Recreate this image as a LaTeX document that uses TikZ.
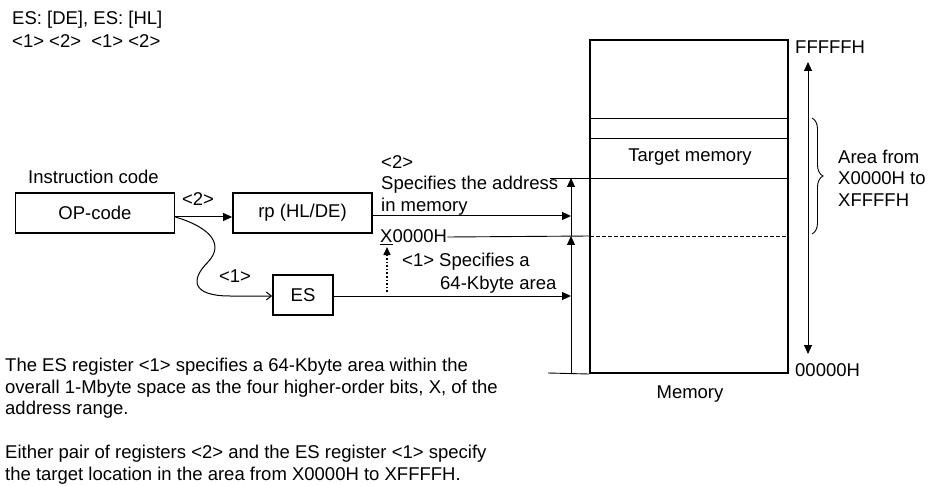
\documentclass[tikz,border=0pt]{standalone}
\usepackage{fontspec}
\setmainfont{Liberation Sans}
\usetikzlibrary{arrows.meta,decorations.pathreplacing}
\begin{document}
\begin{tikzpicture}[x=1pt,y=-1pt,
  txt/.style={font=\fontsize{18.5}{21.5}\selectfont, inner sep=0pt, anchor=west},
  ctxt/.style={font=\fontsize{18.5}{21.5}\selectfont, inner sep=0pt},
  boxn/.style={draw, line width=1.8pt, minimum height=40pt, inner sep=0pt, font=\fontsize{18.5}{21.5}\selectfont},
  thin/.style={line width=0.9pt},
  arr/.style={line width=1pt, -{Triangle[length=9pt,width=8pt]}},
  barb/.style={line width=1pt, -{Straight Barb[length=5pt,width=8pt]}}
]
\useasboundingbox (0,0) rectangle (928,486);
% top texts
\node[txt] (t1) at (12,20) {ES: [DE], ES: [HL]};
\node[txt] (t2) at (12,41) {<1> <2>\ \ <1> <2>};
% boxes
\node[boxn, minimum width=159pt] (op) at (95,213) {OP-code};
\node[boxn, minimum width=139pt] (rp) at (302.5,213) {rp (HL/DE)};
\node[boxn, minimum width=60pt] (es) at (303,295) {ES};
\node[txt] (ic) at (28,177) {Instruction code};
% memory
\node[draw, line width=2pt, minimum width=198pt, minimum height=333pt, inner sep=0pt] (mem) at (689,206.5) {};
\coordinate (m118l) at (590,118); \coordinate (m118r) at (788,118);
\coordinate (m138l) at (590,138); \coordinate (m138r) at (788,138);
\coordinate (m178l) at (550,178); \coordinate (m178r) at (788,178);
\coordinate (m236m) at (590,236); \coordinate (m236r) at (788,236);
\coordinate (m373l) at (548,373);
\draw[thin] (m118l) -- (m118r);
\draw[thin] (m138l) -- (m138r);
\draw[thin] (m178l) -- (m178r);
\draw[thin, dashed, dash pattern=on 4pt off 2pt] (m236m) -- (m236r);
\draw[thin] (m373l) -- (mem.south west);
\node[ctxt] (tm) at (690,157) {Target memory};
\node[ctxt] (memlbl) at (690,394) {Memory};
% address labels
\node[txt] (ff) at (795,47) {FFFFFH};
\node[txt] (zz) at (795,370) {00000H};
\coordinate (vtop) at (808,62);
\coordinate (vbot) at (808,354);
\draw[line width=1pt, {Triangle[length=9pt,width=8pt]}-{Triangle[length=9pt,width=8pt]}] (vtop) -- (vbot);
% brace
\coordinate (bt) at (812,118);
\coordinate (bb) at (812,234);
\draw[thin, decorate, decoration={brace, amplitude=11pt}] (bt) -- (bb);
\node[txt, align=left] (area) at (838,178) {Area from\\X0000H to\\XFFFFH};
% middle texts
\node[txt, align=left] (spec2) at (381,185) {<2>\\Specifies the address\\in memory};
\node[txt] (x0) at (380,237) {\underline{X}0000H};
\node[txt] (spec1a) at (402,262) {<1> Specifies a};
\node[txt] (spec1b) at (440,285) {64-Kbyte area};
% vertical arrows at 571
\coordinate (a373) at (571,373);
\coordinate (a236) at (571,236);
\coordinate (a178) at (571,178);
\draw[arr] (a373) -- (a236);
\draw[arr] (a236) -- (a178);
\draw[thin] (x0.east) -- (m236m);
% horizontal arrows
\coordinate (rpend) at (571,216);
\coordinate (rpstart) at (rp.east |- rpend);
\draw[arr] (rpstart) -- (rpend);
\coordinate (esend) at (571,296);
\draw[arr] (es.east |- esend) -- (esend);
% op -> rp
\coordinate (opout) at (op.east |- 0,217);
\draw[arr] (opout) -- (opout -| rp.west);
\node[ctxt] (l2) at (198,199) {<2>};
% curved to es
\draw[barb] (opout) .. controls (212,228) and (224,245) .. (208,262) .. controls (190,280) and (192,296) .. (230,296) -- (es.west |- 0,296);
\node[ctxt] (l1) at (235,276) {<1>};
% dotted
\coordinate (dbot) at (387,292);
\coordinate (dtop) at (387,247);
\draw[line width=1.6pt, dotted, -{Triangle[length=8pt,width=7pt]}] (dbot) -- (dtop);
% bottom text
\node[txt, align=left, anchor=north west] (b1) at (5,358) {The ES register <1> specifies a 64-Kbyte area within the\\overall 1-Mbyte space as the four higher-order bits, X, of the\\address range.};
\node[txt, align=left, anchor=north west] (b2) at (5,445) {Either pair of registers <2> and the ES register <1> specify\\the target location in the area from X0000H to XFFFFH.};
\end{tikzpicture}
\end{document}
